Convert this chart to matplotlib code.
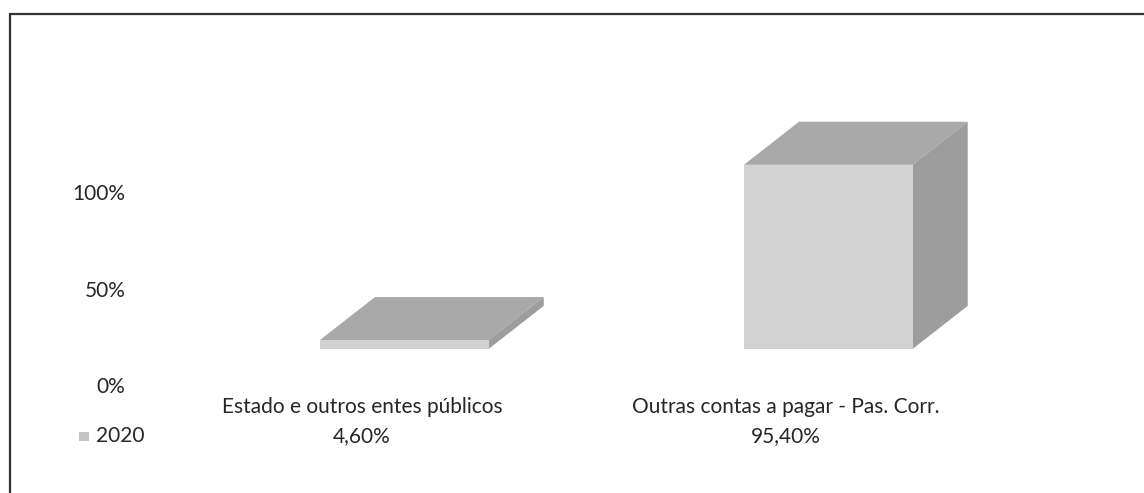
import matplotlib.pyplot as plt
from matplotlib.patches import Polygon, Rectangle

# dados
categorias = ["Estado e outros entes públicos", "Outras contas a pagar - Pas. Corr."]
valores = [4.60, 95.40]
serie = "2020"
ticks = [0, 50, 100]

# aspecto "3D" (estilo Excel)
BASE = 18.7        # deslocamento do plano frontal, em %
FRONT_OFF = -0.099 # lado esquerdo da face frontal em relação à categoria
LARG = 0.398
DX = 0.13
DY = 22.3

COR_FRENTE = "#d2d2d2"
COR_TOPO = "#a9a9a9"
COR_LADO = "#9d9d9d"
COR_TEXTO = "#262626"

plt.rcParams["font.family"] = ["Lato", "DejaVu Sans"]
FS = 15

fig = plt.figure(figsize=(11.44, 4.93), dpi=100)
ax = fig.add_axes([135 / 1144, 13 / 493, 965 / 1144, 420 / 493])
ax.set_xlim(-0.535, 1.741)
ax.set_ylim(-49.2, 168.4)

xs = [i + FRONT_OFF for i in range(len(valores))]
ax.bar(xs, valores, width=LARG, bottom=BASE, align="edge",
       color=COR_FRENTE, linewidth=0, zorder=3)

for x0, v in zip(xs, valores):
    topo = BASE + v
    ax.add_patch(Polygon([(x0, topo), (x0 + LARG, topo),
                          (x0 + LARG + DX, topo + DY), (x0 + DX, topo + DY)],
                         closed=True, facecolor=COR_TOPO, linewidth=0, zorder=2))
    ax.add_patch(Polygon([(x0 + LARG, BASE), (x0 + LARG, topo),
                          (x0 + LARG + DX, topo + DY), (x0 + LARG + DX, BASE + DY)],
                         closed=True, facecolor=COR_LADO, linewidth=0, zorder=2))

ax.set_yticks(ticks)
ax.set_yticklabels([f"{t}%" for t in ticks], fontsize=FS, color=COR_TEXTO)
ax.tick_params(axis="y", length=0, pad=7)
ax.set_xticks([])
for s in ax.spines.values():
    s.set_visible(False)
ax.patch.set_alpha(0)

# tabela de dados
for i, (cat, v) in enumerate(zip(categorias, valores)):
    ax.text(i, -11.4, cat, ha="center", va="center", fontsize=FS, color=COR_TEXTO)
    ax.text(i, -26.4, f"{v:.2f}%".replace(".", ","), ha="center", va="center",
            fontsize=FS, color=COR_TEXTO)

fig.text(96 / 1144, 1 - 436 / 493, serie, ha="left", va="center",
         fontsize=FS, color=COR_TEXTO)
fig.patches.append(Rectangle((79 / 1144, 1 - 441 / 493), 10 / 1144, 9 / 493,
                             transform=fig.transFigure, facecolor="#c4c4c4",
                             linewidth=0))

# moldura (só topo e esquerda visíveis)
fig.patches.append(Rectangle((10 / 1144, -0.05), 1.1, 1 - 14 / 493 + 0.05,
                             transform=fig.transFigure, fill=False,
                             edgecolor="#333333", linewidth=1.6))

fig.savefig("out.png", dpi=100)
